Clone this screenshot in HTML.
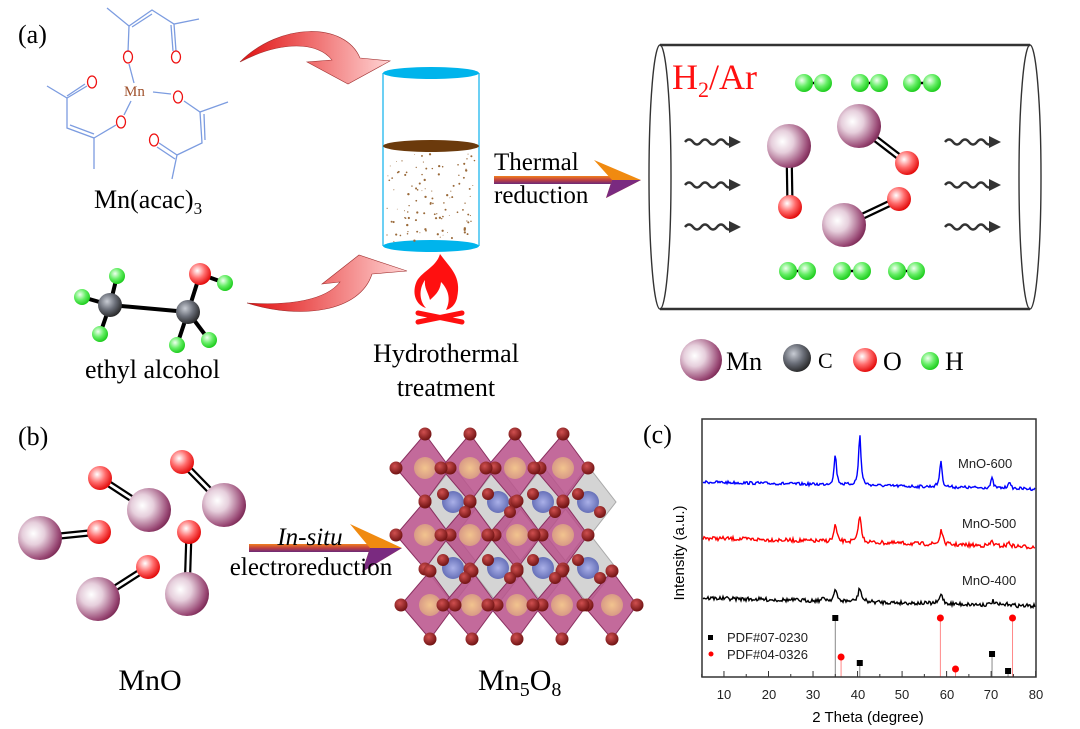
<!DOCTYPE html>
<html><head><meta charset="utf-8"><style>
html,body{margin:0;padding:0;background:#fff;}
svg{display:block;}
.serif{font-family:"Liberation Serif",serif;}
.sans{font-family:"Liberation Sans",sans-serif;}
</style></head><body>
<svg id="s" width="1080" height="729" viewBox="0 0 1080 729" xmlns="http://www.w3.org/2000/svg">
<defs>
<radialGradient id="gMn" cx="0.35" cy="0.4" r="0.72"><stop offset="0" stop-color="#ffffff"/><stop offset="0.35" stop-color="#e6cfdc"/><stop offset="0.8" stop-color="#9a4a76"/><stop offset="1" stop-color="#6d1a45"/></radialGradient>
<radialGradient id="gO" cx="0.38" cy="0.35" r="0.7"><stop offset="0" stop-color="#ffffff"/><stop offset="0.5" stop-color="#ff6a6a"/><stop offset="1" stop-color="#e00000"/></radialGradient>
<radialGradient id="gH" cx="0.38" cy="0.35" r="0.7"><stop offset="0" stop-color="#f0fff0"/><stop offset="0.5" stop-color="#66ee66"/><stop offset="1" stop-color="#14c814"/></radialGradient>
<radialGradient id="gC" cx="0.38" cy="0.35" r="0.7"><stop offset="0" stop-color="#c8ccd4"/><stop offset="0.5" stop-color="#6a6e78"/><stop offset="1" stop-color="#222"/></radialGradient>
<radialGradient id="gR" cx="0.4" cy="0.35" r="0.7"><stop offset="0" stop-color="#d05050"/><stop offset="1" stop-color="#6a0f0f"/></radialGradient>
<radialGradient id="gOr" cx="0.5" cy="0.5" r="0.5"><stop offset="0" stop-color="#f2c48e"/><stop offset="1" stop-color="#d89a86"/></radialGradient>
<radialGradient id="gBl" cx="0.5" cy="0.5" r="0.5"><stop offset="0" stop-color="#aab0e8"/><stop offset="1" stop-color="#6670b8"/></radialGradient>
<linearGradient id="gArr" x1="0" y1="0" x2="1" y2="0"><stop offset="0" stop-color="#e01010"/><stop offset="1" stop-color="#ffd4d4"/></linearGradient>
<linearGradient id="gBar" x1="0" y1="0" x2="0" y2="1"><stop offset="0" stop-color="#f08020"/><stop offset="0.5" stop-color="#c04040"/><stop offset="1" stop-color="#6a2a7a"/></linearGradient>
</defs>

<text x="18" y="43" class="serif" font-size="26">(a)</text>
<g stroke="#7c9ce0" stroke-width="1.3" fill="none">
<polyline points="128,52 129,26 107,8"/><polyline points="129,26 152,10 174,24 199,19"/><line x1="132" y1="27" x2="152" y2="14"/>
<line x1="174" y1="24" x2="176" y2="51"/><line x1="171" y1="25" x2="173" y2="51"/>
<line x1="129" y1="64" x2="134" y2="83"/>
<line x1="153" y1="92" x2="171" y2="94"/><line x1="131" y1="101" x2="124" y2="115"/>
<polyline points="87,86 67,98 47,86"/><line x1="67" y1="96" x2="85" y2="84"/><polyline points="67,98 67,128 94,138 94,169"/><line x1="70" y1="125" x2="94" y2="134"/><line x1="94" y1="138" x2="116" y2="125"/>
<polyline points="184,101 200,112 228,102"/><polyline points="200,112 202,143 177,155 172,179"/><line x1="204" y1="114" x2="205" y2="140"/><line x1="177" y1="155" x2="159" y2="143"/><line x1="175" y1="159" x2="157" y2="147"/>
</g>
<g fill="none" stroke="#ee1111" stroke-width="1.3">
<ellipse cx="128" cy="57" rx="4.5" ry="6"/><ellipse cx="176" cy="57" rx="4.5" ry="6"/><ellipse cx="92" cy="82" rx="4.5" ry="6"/><ellipse cx="121" cy="122" rx="4.5" ry="6"/><ellipse cx="178" cy="97" rx="4.5" ry="6"/><ellipse cx="154" cy="140" rx="4.5" ry="6"/>
</g>
<text x="124" y="96" class="serif" font-size="15" fill="#a0522d">Mn</text>
<text x="94" y="208" class="serif" font-size="26">Mn(acac)<tspan font-size="17" dy="6">3</tspan></text>

<g stroke="#000" stroke-width="4"><line x1="110" y1="305" x2="188" y2="312"/><line x1="110" y1="305" x2="117" y2="276"/><line x1="110" y1="305" x2="82" y2="297"/><line x1="110" y1="305" x2="100" y2="334"/><line x1="188" y1="312" x2="200" y2="274"/><line x1="200" y1="274" x2="225" y2="283"/><line x1="188" y1="312" x2="209" y2="340"/><line x1="188" y1="312" x2="177" y2="345"/></g>
<circle cx="117" cy="276" r="8" fill="url(#gH)"/><circle cx="82" cy="297" r="8" fill="url(#gH)"/><circle cx="100" cy="334" r="8" fill="url(#gH)"/><circle cx="225" cy="283" r="8" fill="url(#gH)"/><circle cx="209" cy="340" r="8" fill="url(#gH)"/><circle cx="177" cy="345" r="8" fill="url(#gH)"/>
<circle cx="110" cy="305" r="12" fill="url(#gC)"/><circle cx="188" cy="312" r="12" fill="url(#gC)"/><circle cx="200" cy="274" r="11" fill="url(#gO)"/>
<text x="85" y="378" class="serif" font-size="26">ethyl alcohol</text>

<!-- curved arrows -->
<path d="M240,62 C280,22 345,22 360,58 L390,61 L348,84 L307,62 L332,60 C318,42 282,40 240,62 Z" fill="url(#gArr)" stroke="#a03030" stroke-width="0.6"/>
<path d="M247,303 C300,320 360,312 372,274 L407,271 L359,255 L322,284 L340,282 C326,300 290,306 247,303 Z" fill="url(#gArr)" stroke="#a03030" stroke-width="0.6"/>

<g>
<line x1="383" y1="73" x2="383" y2="246" stroke="#3cc0f0" stroke-width="1.5"/><line x1="479" y1="73" x2="479" y2="246" stroke="#3cc0f0" stroke-width="1.5"/>
<ellipse cx="431" cy="246" rx="48" ry="6" fill="#00b4ec"/>
<ellipse cx="431" cy="73" rx="48" ry="6" fill="#00b4ec"/>
<ellipse cx="431" cy="146" rx="48" ry="6" fill="#6b3a0c"/>
<g id="dots" fill="#9a6a3a"></g>
</g>
<path d="M440,254 C450,268 462,276 457,298 C455,306 450,309 446,310 C452,298 447,288 441,282 C440,292 434,296 430,300 C428,292 424,288 425,280 C418,290 420,302 426,308 C416,305 412,294 416,283 C420,272 436,268 440,254 Z" fill="#ff1010"/>
<g stroke="#ff1010" stroke-width="5" stroke-linecap="round"><line x1="418" y1="322" x2="462" y2="313"/><line x1="418" y1="313" x2="462" y2="322"/></g>
<text x="446" y="362" class="serif" font-size="26" text-anchor="middle">Hydrothermal</text>
<text x="446" y="396" class="serif" font-size="26" text-anchor="middle">treatment</text>

<rect x="494" y="176" width="124" height="8" fill="url(#gBar)"/>
<path d="M594,160 L641,180 L606,198 L612,180 Z" fill="#f08a10"/><path d="M612,180 L641,180 L606,198 Z" fill="#7a2a80"/>
<text x="494" y="170" class="serif" font-size="25">Thermal</text>
<text x="494" y="203" class="serif" font-size="25">reduction</text>

<g stroke="#333" fill="none">
<line x1="660" y1="45" x2="1030" y2="45" stroke-width="2.5"/><line x1="660" y1="309" x2="1030" y2="309" stroke-width="2.5"/>
<ellipse cx="660" cy="177" rx="11" ry="132" stroke-width="1.4"/><ellipse cx="1030" cy="177" rx="11" ry="132" stroke-width="1.4"/>
</g>
<text x="672" y="89" class="serif" font-size="36" fill="#ff1010">H<tspan font-size="22" dy="8">2</tspan><tspan dy="-8">/Ar</tspan></text>
<g id="h2"></g>
<g id="waves" stroke="#333" stroke-width="2.5" fill="none"></g>
<g id="mno"></g>
<circle cx="701" cy="360" r="21" fill="url(#gMn)"/><text x="726" y="370" class="serif" font-size="26">Mn</text>
<circle cx="797" cy="358" r="14" fill="url(#gC)"/><text x="818" y="368" class="serif" font-size="22">C</text>
<circle cx="865" cy="360" r="12" fill="url(#gO)"/><text x="883" y="370" class="serif" font-size="26">O</text>
<circle cx="930" cy="361" r="9" fill="url(#gH)"/><text x="945" y="370" class="serif" font-size="26">H</text>

<text x="18" y="445" class="serif" font-size="26">(b)</text>
<g id="mnob"></g>
<rect x="249" y="544" width="128" height="8" fill="url(#gBar)"/>
<path d="M350,524 L402,548 L362,572 L370,548 Z" fill="#f08a10"/><path d="M370,548 L402,548 L362,572 Z" fill="#7a2a80"/>
<text x="310" y="545" class="serif" font-size="25" font-style="italic" text-anchor="middle">In-situ</text>
<text x="311" y="575" class="serif" font-size="25" text-anchor="middle">electroreduction</text>
<g id="crys"></g>
<text x="150" y="690" class="serif" font-size="30" text-anchor="middle">MnO</text>
<text x="478" y="690" class="serif" font-size="30">Mn<tspan font-size="20" dy="6">5</tspan><tspan dy="-6">O</tspan><tspan font-size="20" dy="6">8</tspan></text>

<text x="643" y="443" class="serif" font-size="26">(c)</text>
<g id="chart"></g>
<rect x="702" y="419" width="334" height="258" fill="none" stroke="#333" stroke-width="1.5"/>
<g class="sans" font-size="13" fill="#222" text-anchor="middle">
<text x="724" y="699">10</text><text x="769" y="699">20</text><text x="813" y="699">30</text><text x="858" y="699">40</text><text x="902" y="699">50</text><text x="947" y="699">60</text><text x="991" y="699">70</text><text x="1036" y="699">80</text>
</g>
<text x="868" y="722" class="sans" font-size="15" text-anchor="middle">2 Theta (degree)</text>
<text transform="translate(684,553) rotate(-90)" class="sans" font-size="15" text-anchor="middle">Intensity (a.u.)</text>
<g class="sans" font-size="13" fill="#222"><text x="958" y="468">MnO-600</text><text x="962" y="528">MnO-500</text><text x="962" y="585">MnO-400</text>
<text x="727" y="642">PDF#07-0230</text><text x="727" y="659">PDF#04-0326</text></g>
<rect x="708" y="635" width="5" height="5" fill="#000"/><circle cx="711" cy="654" r="2.5" fill="#f00"/>
</svg>
<script>
var NS="http://www.w3.org/2000/svg";
function el(p,t,a){var e=document.createElementNS(NS,t);for(var k in a)e.setAttribute(k,a[k]);p.appendChild(e);return e;}
var seed=7;function rnd(){seed=(seed*16807)%2147483647;return seed/2147483647;}
var d=document.getElementById('dots');
for(var i=0;i<110;i++){el(d,'circle',{cx:387+rnd()*88,cy:154+rnd()*88,r:0.4+rnd()*0.8});}
var h=document.getElementById('h2');
[[804,823,83],[860,879,83],[912,932,83],[788,807,271],[842,862,271],[897,916,271]].forEach(function(p){
el(h,'line',{x1:p[0],y1:p[2],x2:p[1],y2:p[2],stroke:'#000','stroke-width':2.5});
el(h,'circle',{cx:p[0],cy:p[2],r:9,fill:'url(#gH)'});el(h,'circle',{cx:p[1],cy:p[2],r:9,fill:'url(#gH)'});});
var w=document.getElementById('waves');
[[685,142],[685,185],[685,227],[945,142],[945,185],[945,227]].forEach(function(p){
var x=p[0],y=p[1],s='M'+x+','+y;
for(var k=0;k<3;k++){s+=' q4,-5 8,0 q4,5 8,0';}
el(w,'path',{d:s});
el(w,'path',{d:'M'+(x+44)+','+(y-6)+' L'+(x+56)+','+y+' L'+(x+44)+','+(y+6)+' Z',fill:'#333',stroke:'none'});});
function mol(g,mx,my,mr,ox,oy,or_){
var dx=ox-mx,dy=oy-my,L=Math.sqrt(dx*dx+dy*dy),nx=-dy/L*2.5,ny=dx/L*2.5;
el(g,'line',{x1:mx+nx,y1:my+ny,x2:ox+nx,y2:oy+ny,stroke:'#000','stroke-width':2.2});
el(g,'line',{x1:mx-nx,y1:my-ny,x2:ox-nx,y2:oy-ny,stroke:'#000','stroke-width':2.2});
el(g,'circle',{cx:ox,cy:oy,r:or_,fill:'url(#gO)'});
el(g,'circle',{cx:mx,cy:my,r:mr,fill:'url(#gMn)'});}
var m=document.getElementById('mno');
mol(m,789,146,22,790,207,12);mol(m,859,126,22,907,163,12);mol(m,844,225,22,899,199,12);
var b=document.getElementById('mnob');
mol(b,40,538,22,99,532,12);mol(b,149,510,22,100,478,12);mol(b,224,505,22,182,462,12);mol(b,98,599,22,148,567,12);mol(b,187,594,22,189,532,12);
var c=document.getElementById('crys');
var hw=25,hh=34;
var blue=[];[502,568].forEach(function(y){[453,498,543,588].forEach(function(x){blue.push([x,y]);});});
blue.forEach(function(p){el(c,'polygon',{points:(p[0]-hw-3)+','+p[1]+' '+p[0]+','+(p[1]-hh-2)+' '+(p[0]+hw+3)+','+p[1]+' '+p[0]+','+(p[1]+hh+2),fill:'#d4d4d4',stroke:'#aaa','stroke-width':1});
el(c,'circle',{cx:p[0],cy:p[1],r:11,fill:'url(#gBl)'});});
var oct=[];[[468,[425,470,515,563]],[535,[425,470,517,563]],[605,[430,472,517,562,612]]].forEach(function(r){r[1].forEach(function(x){oct.push([x,r[0]]);});});
oct.forEach(function(p){el(c,'polygon',{points:(p[0]-hw-4)+','+p[1]+' '+p[0]+','+(p[1]-hh)+' '+(p[0]+hw)+','+p[1]+' '+p[0]+','+(p[1]+hh),fill:'#b8508a','fill-opacity':0.85,stroke:'#8a3060','stroke-width':1});
el(c,'circle',{cx:p[0],cy:p[1],r:11,fill:'url(#gOr)'});});
oct.forEach(function(p){[[0,-hh],[0,hh],[-hw-4,0],[hw,0]].forEach(function(o){el(c,'circle',{cx:p[0]+o[0],cy:p[1]+o[1],r:6.5,fill:'url(#gR)'});});});
blue.forEach(function(p){[[-10,-8],[12,10]].forEach(function(o){el(c,'circle',{cx:p[0]+o[0],cy:p[1]+o[1],r:6,fill:'url(#gR)'});});});
var ch=document.getElementById('chart');
function X(t){return 701.7+(t-5)*4.453;}
function curve(col,b0,b1,peaks,noise,w){
var s='';for(var px=703;px<=1035;px+=1){var t=(px-701.7)/4.453+5;var y=b0+(b1-b0)*(px-703)/332;
peaks.forEach(function(p){y-=p[1]/(1+Math.pow((t-p[0])/w,2));});
y+=(rnd()-0.5)*noise;s+=(s?' L':'M')+px+','+y.toFixed(1);}
el(ch,'path',{d:s,stroke:col,'stroke-width':1.4,fill:'none'});}
curve('#0000ff',482,489,[[35,31],[40.5,52],[58.7,27],[70.2,10],[74,7]],3,0.3);
curve('#ff0000',538,547,[[35,17],[40.5,28],[58.8,15],[70.2,5],[74,4]],4,0.35);
curve('#000000',598,606,[[35,11],[40.5,14],[58.8,10],[70.4,4],[74,2],[32.5,3]],4,0.4);
[[35,618,'#000','s'],[40.5,663,'#000','s'],[70.2,654,'#000','s'],[73.8,671,'#000','s'],[36.3,657,'#f00','c'],[58.6,618,'#f00','c'],[62,669,'#f00','c'],[74.8,618,'#f00','c']].forEach(function(p){
var x=X(p[0]);el(ch,'line',{x1:x,y1:p[1],x2:x,y2:677,stroke:p[2]=='#000'?'#888':'#f88','stroke-width':1});
if(p[3]=='s')el(ch,'rect',{x:x-3,y:p[1]-3,width:6,height:6,fill:'#000'});else el(ch,'circle',{cx:x,cy:p[1],r:3.5,fill:'#f00'});});
for(var t=5;t<=80;t+=5){var x=X(t);el(ch,'line',{x1:x,y1:677,x2:x,y2:t%10==0?671:674,stroke:'#333','stroke-width':1});}
</script>
</body></html>
